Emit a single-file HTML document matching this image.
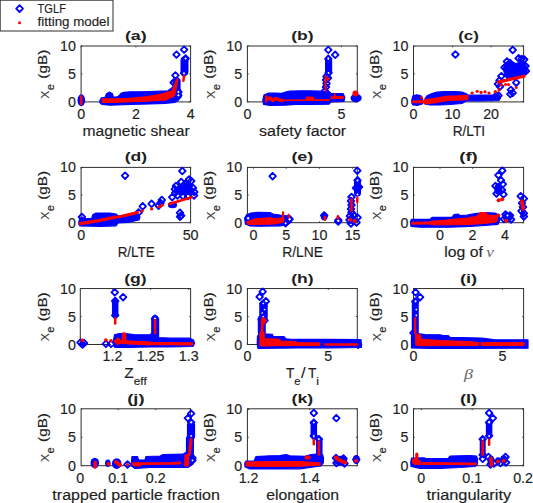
<!DOCTYPE html><html><head><meta charset="utf-8"><style>html,body{margin:0;padding:0;background:#fff;width:533px;height:503px;overflow:hidden}svg{display:block}</style></head><body><svg width="533" height="503" viewBox="0 0 533 503">
<style>text{font-family:"Liberation Sans", sans-serif;fill:#1e1e1e} .d{fill:none;stroke:#0000ff;stroke-width:1.8;stroke-linejoin:round} .bp{fill:#0000ff;stroke:#0000ff;stroke-width:1.2;stroke-linejoin:round} .bl{fill:none;stroke:#0000ff;stroke-linecap:round;stroke-linejoin:round} .rl{fill:none;stroke:#ff0000;stroke-linecap:round;stroke-linejoin:round} .ax{fill:none;stroke:#2e2e2e;stroke-width:1}</style>
<rect width="533" height="503" fill="#fff"/>
<rect class="ax" x="81.10" y="46.00" width="109.50" height="55.90"/>
<path d="M81.10 101.90v-1.3M81.10 46.00v1.3M135.90 101.90v-1.3M135.90 46.00v1.3M190.60 101.90v-1.3M190.60 46.00v1.3M81.10 101.90h1.3M190.60 101.90h-1.3M81.10 73.95h1.3M190.60 73.95h-1.3M81.10 46.00h1.3M190.60 46.00h-1.3" stroke="#333" stroke-width="1" fill="none"/>
<text x="81.10" y="118.70" font-size="13.75" font-weight="normal" text-anchor="middle" textLength="7.95" lengthAdjust="spacingAndGlyphs" stroke="#1e1e1e" stroke-width="0.15">0</text>
<text x="135.90" y="118.70" font-size="13.75" font-weight="normal" text-anchor="middle" textLength="7.95" lengthAdjust="spacingAndGlyphs" stroke="#1e1e1e" stroke-width="0.15">2</text>
<text x="190.60" y="118.70" font-size="13.75" font-weight="normal" text-anchor="middle" textLength="7.95" lengthAdjust="spacingAndGlyphs" stroke="#1e1e1e" stroke-width="0.15">4</text>
<text x="76.00" y="106.90" font-size="13.75" font-weight="normal" text-anchor="end" textLength="7.95" lengthAdjust="spacingAndGlyphs" stroke="#1e1e1e" stroke-width="0.15">0</text>
<text x="76.00" y="78.95" font-size="13.75" font-weight="normal" text-anchor="end" textLength="7.95" lengthAdjust="spacingAndGlyphs" stroke="#1e1e1e" stroke-width="0.15">5</text>
<text x="76.00" y="51.00" font-size="13.75" font-weight="normal" text-anchor="end" textLength="15.91" lengthAdjust="spacingAndGlyphs" stroke="#1e1e1e" stroke-width="0.15">10</text>
<text x="135.85" y="40.00" font-size="13.20" font-weight="bold" text-anchor="middle" textLength="21.85" lengthAdjust="spacingAndGlyphs">(a)</text>
<g transform="rotate(-90)"><text x="-98.75" y="46.60" font-size="11.5" textLength="8.2" lengthAdjust="spacingAndGlyphs" style="fill:#444">χ</text><text x="-90.25" y="53.60" font-size="10.3" textLength="6.15" lengthAdjust="spacingAndGlyphs" stroke="#1e1e1e" stroke-width="0.15">e</text><text x="-78.65" y="46.60" font-size="12.6" textLength="28.89" lengthAdjust="spacingAndGlyphs" stroke="#1e1e1e" stroke-width="0.15">(gB)</text></g>
<rect class="ax" x="247.40" y="46.00" width="109.90" height="55.90"/>
<path d="M247.40 101.90v-1.3M247.40 46.00v1.3M341.40 101.90v-1.3M341.40 46.00v1.3M247.40 101.90h1.3M357.30 101.90h-1.3M247.40 73.95h1.3M357.30 73.95h-1.3M247.40 46.00h1.3M357.30 46.00h-1.3" stroke="#333" stroke-width="1" fill="none"/>
<text x="247.40" y="118.70" font-size="13.75" font-weight="normal" text-anchor="middle" textLength="7.95" lengthAdjust="spacingAndGlyphs" stroke="#1e1e1e" stroke-width="0.15">0</text>
<text x="341.40" y="118.70" font-size="13.75" font-weight="normal" text-anchor="middle" textLength="7.95" lengthAdjust="spacingAndGlyphs" stroke="#1e1e1e" stroke-width="0.15">5</text>
<text x="242.30" y="106.90" font-size="13.75" font-weight="normal" text-anchor="end" textLength="7.95" lengthAdjust="spacingAndGlyphs" stroke="#1e1e1e" stroke-width="0.15">0</text>
<text x="242.30" y="78.95" font-size="13.75" font-weight="normal" text-anchor="end" textLength="7.95" lengthAdjust="spacingAndGlyphs" stroke="#1e1e1e" stroke-width="0.15">5</text>
<text x="242.30" y="51.00" font-size="13.75" font-weight="normal" text-anchor="end" textLength="15.91" lengthAdjust="spacingAndGlyphs" stroke="#1e1e1e" stroke-width="0.15">10</text>
<text x="302.35" y="40.00" font-size="13.20" font-weight="bold" text-anchor="middle" textLength="22.41" lengthAdjust="spacingAndGlyphs">(b)</text>
<g transform="rotate(-90)"><text x="-98.75" y="212.90" font-size="11.5" textLength="8.2" lengthAdjust="spacingAndGlyphs" style="fill:#444">χ</text><text x="-90.25" y="219.90" font-size="10.3" textLength="6.15" lengthAdjust="spacingAndGlyphs" stroke="#1e1e1e" stroke-width="0.15">e</text><text x="-78.65" y="212.90" font-size="12.6" textLength="28.89" lengthAdjust="spacingAndGlyphs" stroke="#1e1e1e" stroke-width="0.15">(gB)</text></g>
<rect class="ax" x="413.50" y="46.00" width="110.10" height="55.90"/>
<path d="M413.50 101.90v-1.3M413.50 46.00v1.3M452.40 101.90v-1.3M452.40 46.00v1.3M491.10 101.90v-1.3M491.10 46.00v1.3M413.50 101.90h1.3M523.60 101.90h-1.3M413.50 73.95h1.3M523.60 73.95h-1.3M413.50 46.00h1.3M523.60 46.00h-1.3" stroke="#333" stroke-width="1" fill="none"/>
<text x="413.50" y="118.70" font-size="13.75" font-weight="normal" text-anchor="middle" textLength="7.95" lengthAdjust="spacingAndGlyphs" stroke="#1e1e1e" stroke-width="0.15">0</text>
<text x="452.40" y="118.70" font-size="13.75" font-weight="normal" text-anchor="middle" textLength="15.91" lengthAdjust="spacingAndGlyphs" stroke="#1e1e1e" stroke-width="0.15">10</text>
<text x="491.10" y="118.70" font-size="13.75" font-weight="normal" text-anchor="middle" textLength="15.91" lengthAdjust="spacingAndGlyphs" stroke="#1e1e1e" stroke-width="0.15">20</text>
<text x="408.40" y="106.90" font-size="13.75" font-weight="normal" text-anchor="end" textLength="7.95" lengthAdjust="spacingAndGlyphs" stroke="#1e1e1e" stroke-width="0.15">0</text>
<text x="408.40" y="78.95" font-size="13.75" font-weight="normal" text-anchor="end" textLength="7.95" lengthAdjust="spacingAndGlyphs" stroke="#1e1e1e" stroke-width="0.15">5</text>
<text x="408.40" y="51.00" font-size="13.75" font-weight="normal" text-anchor="end" textLength="15.91" lengthAdjust="spacingAndGlyphs" stroke="#1e1e1e" stroke-width="0.15">10</text>
<text x="468.55" y="40.00" font-size="13.20" font-weight="bold" text-anchor="middle" textLength="20.72" lengthAdjust="spacingAndGlyphs">(c)</text>
<g transform="rotate(-90)"><text x="-98.75" y="379.00" font-size="11.5" textLength="8.2" lengthAdjust="spacingAndGlyphs" style="fill:#444">χ</text><text x="-90.25" y="386.00" font-size="10.3" textLength="6.15" lengthAdjust="spacingAndGlyphs" stroke="#1e1e1e" stroke-width="0.15">e</text><text x="-78.65" y="379.00" font-size="12.6" textLength="28.89" lengthAdjust="spacingAndGlyphs" stroke="#1e1e1e" stroke-width="0.15">(gB)</text></g>
<rect class="ax" x="81.10" y="167.40" width="109.50" height="55.30"/>
<path d="M81.10 222.70v-1.3M81.10 167.40v1.3M190.60 222.70v-1.3M190.60 167.40v1.3M81.10 222.70h1.3M190.60 222.70h-1.3M81.10 195.05h1.3M190.60 195.05h-1.3M81.10 167.40h1.3M190.60 167.40h-1.3" stroke="#333" stroke-width="1" fill="none"/>
<text x="81.10" y="239.50" font-size="13.75" font-weight="normal" text-anchor="middle" textLength="7.95" lengthAdjust="spacingAndGlyphs" stroke="#1e1e1e" stroke-width="0.15">0</text>
<text x="190.60" y="239.50" font-size="13.75" font-weight="normal" text-anchor="middle" textLength="15.91" lengthAdjust="spacingAndGlyphs" stroke="#1e1e1e" stroke-width="0.15">50</text>
<text x="76.00" y="227.70" font-size="13.75" font-weight="normal" text-anchor="end" textLength="7.95" lengthAdjust="spacingAndGlyphs" stroke="#1e1e1e" stroke-width="0.15">0</text>
<text x="76.00" y="200.05" font-size="13.75" font-weight="normal" text-anchor="end" textLength="7.95" lengthAdjust="spacingAndGlyphs" stroke="#1e1e1e" stroke-width="0.15">5</text>
<text x="76.00" y="172.40" font-size="13.75" font-weight="normal" text-anchor="end" textLength="15.91" lengthAdjust="spacingAndGlyphs" stroke="#1e1e1e" stroke-width="0.15">10</text>
<text x="135.85" y="161.40" font-size="13.20" font-weight="bold" text-anchor="middle" textLength="22.41" lengthAdjust="spacingAndGlyphs">(d)</text>
<g transform="rotate(-90)"><text x="-219.85" y="46.60" font-size="11.5" textLength="8.2" lengthAdjust="spacingAndGlyphs" style="fill:#444">χ</text><text x="-211.35" y="53.60" font-size="10.3" textLength="6.15" lengthAdjust="spacingAndGlyphs" stroke="#1e1e1e" stroke-width="0.15">e</text><text x="-199.75" y="46.60" font-size="12.6" textLength="28.89" lengthAdjust="spacingAndGlyphs" stroke="#1e1e1e" stroke-width="0.15">(gB)</text></g>
<rect class="ax" x="247.40" y="167.40" width="109.90" height="55.30"/>
<path d="M253.40 222.70v-1.3M253.40 167.40v1.3M286.30 222.70v-1.3M286.30 167.40v1.3M319.50 222.70v-1.3M319.50 167.40v1.3M352.60 222.70v-1.3M352.60 167.40v1.3M247.40 222.70h1.3M357.30 222.70h-1.3M247.40 195.05h1.3M357.30 195.05h-1.3M247.40 167.40h1.3M357.30 167.40h-1.3" stroke="#333" stroke-width="1" fill="none"/>
<text x="253.40" y="239.50" font-size="13.75" font-weight="normal" text-anchor="middle" textLength="7.95" lengthAdjust="spacingAndGlyphs" stroke="#1e1e1e" stroke-width="0.15">0</text>
<text x="286.30" y="239.50" font-size="13.75" font-weight="normal" text-anchor="middle" textLength="7.95" lengthAdjust="spacingAndGlyphs" stroke="#1e1e1e" stroke-width="0.15">5</text>
<text x="319.50" y="239.50" font-size="13.75" font-weight="normal" text-anchor="middle" textLength="15.91" lengthAdjust="spacingAndGlyphs" stroke="#1e1e1e" stroke-width="0.15">10</text>
<text x="352.60" y="239.50" font-size="13.75" font-weight="normal" text-anchor="middle" textLength="15.91" lengthAdjust="spacingAndGlyphs" stroke="#1e1e1e" stroke-width="0.15">15</text>
<text x="242.30" y="227.70" font-size="13.75" font-weight="normal" text-anchor="end" textLength="7.95" lengthAdjust="spacingAndGlyphs" stroke="#1e1e1e" stroke-width="0.15">0</text>
<text x="242.30" y="200.05" font-size="13.75" font-weight="normal" text-anchor="end" textLength="7.95" lengthAdjust="spacingAndGlyphs" stroke="#1e1e1e" stroke-width="0.15">5</text>
<text x="242.30" y="172.40" font-size="13.75" font-weight="normal" text-anchor="end" textLength="15.91" lengthAdjust="spacingAndGlyphs" stroke="#1e1e1e" stroke-width="0.15">10</text>
<text x="302.35" y="161.40" font-size="13.20" font-weight="bold" text-anchor="middle" textLength="21.89" lengthAdjust="spacingAndGlyphs">(e)</text>
<g transform="rotate(-90)"><text x="-219.85" y="212.90" font-size="11.5" textLength="8.2" lengthAdjust="spacingAndGlyphs" style="fill:#444">χ</text><text x="-211.35" y="219.90" font-size="10.3" textLength="6.15" lengthAdjust="spacingAndGlyphs" stroke="#1e1e1e" stroke-width="0.15">e</text><text x="-199.75" y="212.90" font-size="12.6" textLength="28.89" lengthAdjust="spacingAndGlyphs" stroke="#1e1e1e" stroke-width="0.15">(gB)</text></g>
<rect class="ax" x="413.50" y="167.40" width="110.10" height="55.30"/>
<path d="M440.00 222.70v-1.3M440.00 167.40v1.3M472.50 222.70v-1.3M472.50 167.40v1.3M505.00 222.70v-1.3M505.00 167.40v1.3M413.50 222.70h1.3M523.60 222.70h-1.3M413.50 195.05h1.3M523.60 195.05h-1.3M413.50 167.40h1.3M523.60 167.40h-1.3" stroke="#333" stroke-width="1" fill="none"/>
<text x="440.00" y="239.50" font-size="13.75" font-weight="normal" text-anchor="middle" textLength="7.95" lengthAdjust="spacingAndGlyphs" stroke="#1e1e1e" stroke-width="0.15">0</text>
<text x="472.50" y="239.50" font-size="13.75" font-weight="normal" text-anchor="middle" textLength="7.95" lengthAdjust="spacingAndGlyphs" stroke="#1e1e1e" stroke-width="0.15">2</text>
<text x="505.00" y="239.50" font-size="13.75" font-weight="normal" text-anchor="middle" textLength="7.95" lengthAdjust="spacingAndGlyphs" stroke="#1e1e1e" stroke-width="0.15">4</text>
<text x="408.40" y="227.70" font-size="13.75" font-weight="normal" text-anchor="end" textLength="7.95" lengthAdjust="spacingAndGlyphs" stroke="#1e1e1e" stroke-width="0.15">0</text>
<text x="408.40" y="200.05" font-size="13.75" font-weight="normal" text-anchor="end" textLength="7.95" lengthAdjust="spacingAndGlyphs" stroke="#1e1e1e" stroke-width="0.15">5</text>
<text x="408.40" y="172.40" font-size="13.75" font-weight="normal" text-anchor="end" textLength="15.91" lengthAdjust="spacingAndGlyphs" stroke="#1e1e1e" stroke-width="0.15">10</text>
<text x="468.55" y="161.40" font-size="13.20" font-weight="bold" text-anchor="middle" textLength="18.55" lengthAdjust="spacingAndGlyphs">(f)</text>
<g transform="rotate(-90)"><text x="-219.85" y="379.00" font-size="11.5" textLength="8.2" lengthAdjust="spacingAndGlyphs" style="fill:#444">χ</text><text x="-211.35" y="386.00" font-size="10.3" textLength="6.15" lengthAdjust="spacingAndGlyphs" stroke="#1e1e1e" stroke-width="0.15">e</text><text x="-199.75" y="379.00" font-size="12.6" textLength="28.89" lengthAdjust="spacingAndGlyphs" stroke="#1e1e1e" stroke-width="0.15">(gB)</text></g>
<rect class="ax" x="80.30" y="288.55" width="110.30" height="55.95"/>
<path d="M112.50 344.50v-1.3M112.50 288.55v1.3M150.60 344.50v-1.3M150.60 288.55v1.3M188.70 344.50v-1.3M188.70 288.55v1.3M80.30 344.50h1.3M190.60 344.50h-1.3M80.30 316.52h1.3M190.60 316.52h-1.3M80.30 288.55h1.3M190.60 288.55h-1.3" stroke="#333" stroke-width="1" fill="none"/>
<text x="112.50" y="361.30" font-size="13.75" font-weight="normal" text-anchor="middle" textLength="19.88" lengthAdjust="spacingAndGlyphs" stroke="#1e1e1e" stroke-width="0.15">1.2</text>
<text x="150.60" y="361.30" font-size="13.75" font-weight="normal" text-anchor="middle" textLength="27.83" lengthAdjust="spacingAndGlyphs" stroke="#1e1e1e" stroke-width="0.15">1.25</text>
<text x="188.70" y="361.30" font-size="13.75" font-weight="normal" text-anchor="middle" textLength="19.88" lengthAdjust="spacingAndGlyphs" stroke="#1e1e1e" stroke-width="0.15">1.3</text>
<text x="76.00" y="349.50" font-size="13.75" font-weight="normal" text-anchor="end" textLength="7.95" lengthAdjust="spacingAndGlyphs" stroke="#1e1e1e" stroke-width="0.15">0</text>
<text x="76.00" y="321.52" font-size="13.75" font-weight="normal" text-anchor="end" textLength="7.95" lengthAdjust="spacingAndGlyphs" stroke="#1e1e1e" stroke-width="0.15">5</text>
<text x="76.00" y="293.55" font-size="13.75" font-weight="normal" text-anchor="end" textLength="15.91" lengthAdjust="spacingAndGlyphs" stroke="#1e1e1e" stroke-width="0.15">10</text>
<text x="135.45" y="282.55" font-size="13.20" font-weight="bold" text-anchor="middle" textLength="22.41" lengthAdjust="spacingAndGlyphs">(g)</text>
<g transform="rotate(-90)"><text x="-341.32" y="46.60" font-size="11.5" textLength="8.2" lengthAdjust="spacingAndGlyphs" style="fill:#444">χ</text><text x="-332.82" y="53.60" font-size="10.3" textLength="6.15" lengthAdjust="spacingAndGlyphs" stroke="#1e1e1e" stroke-width="0.15">e</text><text x="-321.22" y="46.60" font-size="12.6" textLength="28.89" lengthAdjust="spacingAndGlyphs" stroke="#1e1e1e" stroke-width="0.15">(gB)</text></g>
<rect class="ax" x="247.40" y="288.55" width="109.90" height="55.95"/>
<path d="M247.40 344.50v-1.3M247.40 288.55v1.3M328.30 344.50v-1.3M328.30 288.55v1.3M247.40 344.50h1.3M357.30 344.50h-1.3M247.40 316.52h1.3M357.30 316.52h-1.3M247.40 288.55h1.3M357.30 288.55h-1.3" stroke="#333" stroke-width="1" fill="none"/>
<text x="247.40" y="361.30" font-size="13.75" font-weight="normal" text-anchor="middle" textLength="7.95" lengthAdjust="spacingAndGlyphs" stroke="#1e1e1e" stroke-width="0.15">0</text>
<text x="328.30" y="361.30" font-size="13.75" font-weight="normal" text-anchor="middle" textLength="7.95" lengthAdjust="spacingAndGlyphs" stroke="#1e1e1e" stroke-width="0.15">5</text>
<text x="242.30" y="349.50" font-size="13.75" font-weight="normal" text-anchor="end" textLength="7.95" lengthAdjust="spacingAndGlyphs" stroke="#1e1e1e" stroke-width="0.15">0</text>
<text x="242.30" y="321.52" font-size="13.75" font-weight="normal" text-anchor="end" textLength="7.95" lengthAdjust="spacingAndGlyphs" stroke="#1e1e1e" stroke-width="0.15">5</text>
<text x="242.30" y="293.55" font-size="13.75" font-weight="normal" text-anchor="end" textLength="15.91" lengthAdjust="spacingAndGlyphs" stroke="#1e1e1e" stroke-width="0.15">10</text>
<text x="302.35" y="282.55" font-size="13.20" font-weight="bold" text-anchor="middle" textLength="22.36" lengthAdjust="spacingAndGlyphs">(h)</text>
<g transform="rotate(-90)"><text x="-341.32" y="212.90" font-size="11.5" textLength="8.2" lengthAdjust="spacingAndGlyphs" style="fill:#444">χ</text><text x="-332.82" y="219.90" font-size="10.3" textLength="6.15" lengthAdjust="spacingAndGlyphs" stroke="#1e1e1e" stroke-width="0.15">e</text><text x="-321.22" y="212.90" font-size="12.6" textLength="28.89" lengthAdjust="spacingAndGlyphs" stroke="#1e1e1e" stroke-width="0.15">(gB)</text></g>
<rect class="ax" x="413.50" y="288.55" width="110.10" height="55.95"/>
<path d="M413.50 344.50v-1.3M413.50 288.55v1.3M502.40 344.50v-1.3M502.40 288.55v1.3M413.50 344.50h1.3M523.60 344.50h-1.3M413.50 316.52h1.3M523.60 316.52h-1.3M413.50 288.55h1.3M523.60 288.55h-1.3" stroke="#333" stroke-width="1" fill="none"/>
<text x="413.50" y="361.30" font-size="13.75" font-weight="normal" text-anchor="middle" textLength="7.95" lengthAdjust="spacingAndGlyphs" stroke="#1e1e1e" stroke-width="0.15">0</text>
<text x="502.40" y="361.30" font-size="13.75" font-weight="normal" text-anchor="middle" textLength="7.95" lengthAdjust="spacingAndGlyphs" stroke="#1e1e1e" stroke-width="0.15">5</text>
<text x="408.40" y="349.50" font-size="13.75" font-weight="normal" text-anchor="end" textLength="7.95" lengthAdjust="spacingAndGlyphs" stroke="#1e1e1e" stroke-width="0.15">0</text>
<text x="408.40" y="321.52" font-size="13.75" font-weight="normal" text-anchor="end" textLength="7.95" lengthAdjust="spacingAndGlyphs" stroke="#1e1e1e" stroke-width="0.15">5</text>
<text x="408.40" y="293.55" font-size="13.75" font-weight="normal" text-anchor="end" textLength="15.91" lengthAdjust="spacingAndGlyphs" stroke="#1e1e1e" stroke-width="0.15">10</text>
<text x="468.55" y="282.55" font-size="13.20" font-weight="bold" text-anchor="middle" textLength="17.28" lengthAdjust="spacingAndGlyphs">(i)</text>
<g transform="rotate(-90)"><text x="-341.32" y="379.00" font-size="11.5" textLength="8.2" lengthAdjust="spacingAndGlyphs" style="fill:#444">χ</text><text x="-332.82" y="386.00" font-size="10.3" textLength="6.15" lengthAdjust="spacingAndGlyphs" stroke="#1e1e1e" stroke-width="0.15">e</text><text x="-321.22" y="379.00" font-size="12.6" textLength="28.89" lengthAdjust="spacingAndGlyphs" stroke="#1e1e1e" stroke-width="0.15">(gB)</text></g>
<rect class="ax" x="81.10" y="408.80" width="109.50" height="56.90"/>
<path d="M118.10 465.70v-1.3M118.10 408.80v1.3M155.80 465.70v-1.3M155.80 408.80v1.3M81.10 465.70h1.3M190.60 465.70h-1.3M81.10 437.25h1.3M190.60 437.25h-1.3M81.10 408.80h1.3M190.60 408.80h-1.3" stroke="#333" stroke-width="1" fill="none"/>
<text x="80.30" y="482.50" font-size="13.75" font-weight="normal" text-anchor="middle" textLength="7.95" lengthAdjust="spacingAndGlyphs" stroke="#1e1e1e" stroke-width="0.15">0</text>
<text x="118.10" y="482.50" font-size="13.75" font-weight="normal" text-anchor="middle" textLength="19.88" lengthAdjust="spacingAndGlyphs" stroke="#1e1e1e" stroke-width="0.15">0.1</text>
<text x="155.80" y="482.50" font-size="13.75" font-weight="normal" text-anchor="middle" textLength="19.88" lengthAdjust="spacingAndGlyphs" stroke="#1e1e1e" stroke-width="0.15">0.2</text>
<text x="76.00" y="470.70" font-size="13.75" font-weight="normal" text-anchor="end" textLength="7.95" lengthAdjust="spacingAndGlyphs" stroke="#1e1e1e" stroke-width="0.15">0</text>
<text x="76.00" y="442.25" font-size="13.75" font-weight="normal" text-anchor="end" textLength="7.95" lengthAdjust="spacingAndGlyphs" stroke="#1e1e1e" stroke-width="0.15">5</text>
<text x="76.00" y="413.80" font-size="13.75" font-weight="normal" text-anchor="end" textLength="15.91" lengthAdjust="spacingAndGlyphs" stroke="#1e1e1e" stroke-width="0.15">10</text>
<text x="135.85" y="402.80" font-size="13.20" font-weight="bold" text-anchor="middle" textLength="17.28" lengthAdjust="spacingAndGlyphs">(j)</text>
<g transform="rotate(-90)"><text x="-462.05" y="46.60" font-size="11.5" textLength="8.2" lengthAdjust="spacingAndGlyphs" style="fill:#444">χ</text><text x="-453.55" y="53.60" font-size="10.3" textLength="6.15" lengthAdjust="spacingAndGlyphs" stroke="#1e1e1e" stroke-width="0.15">e</text><text x="-441.95" y="46.60" font-size="12.6" textLength="28.89" lengthAdjust="spacingAndGlyphs" stroke="#1e1e1e" stroke-width="0.15">(gB)</text></g>
<rect class="ax" x="247.40" y="408.80" width="109.90" height="56.90"/>
<path d="M248.60 465.70v-1.3M248.60 408.80v1.3M309.80 465.70v-1.3M309.80 408.80v1.3M247.40 465.70h1.3M357.30 465.70h-1.3M247.40 437.25h1.3M357.30 437.25h-1.3M247.40 408.80h1.3M357.30 408.80h-1.3" stroke="#333" stroke-width="1" fill="none"/>
<text x="248.60" y="482.50" font-size="13.75" font-weight="normal" text-anchor="middle" textLength="19.88" lengthAdjust="spacingAndGlyphs" stroke="#1e1e1e" stroke-width="0.15">1.2</text>
<text x="309.80" y="482.50" font-size="13.75" font-weight="normal" text-anchor="middle" textLength="19.88" lengthAdjust="spacingAndGlyphs" stroke="#1e1e1e" stroke-width="0.15">1.4</text>
<text x="242.30" y="470.70" font-size="13.75" font-weight="normal" text-anchor="end" textLength="7.95" lengthAdjust="spacingAndGlyphs" stroke="#1e1e1e" stroke-width="0.15">0</text>
<text x="242.30" y="442.25" font-size="13.75" font-weight="normal" text-anchor="end" textLength="7.95" lengthAdjust="spacingAndGlyphs" stroke="#1e1e1e" stroke-width="0.15">5</text>
<text x="242.30" y="413.80" font-size="13.75" font-weight="normal" text-anchor="end" textLength="15.91" lengthAdjust="spacingAndGlyphs" stroke="#1e1e1e" stroke-width="0.15">10</text>
<text x="302.35" y="402.80" font-size="13.20" font-weight="bold" text-anchor="middle" textLength="21.71" lengthAdjust="spacingAndGlyphs">(k)</text>
<g transform="rotate(-90)"><text x="-462.05" y="212.90" font-size="11.5" textLength="8.2" lengthAdjust="spacingAndGlyphs" style="fill:#444">χ</text><text x="-453.55" y="219.90" font-size="10.3" textLength="6.15" lengthAdjust="spacingAndGlyphs" stroke="#1e1e1e" stroke-width="0.15">e</text><text x="-441.95" y="212.90" font-size="12.6" textLength="28.89" lengthAdjust="spacingAndGlyphs" stroke="#1e1e1e" stroke-width="0.15">(gB)</text></g>
<rect class="ax" x="413.50" y="408.80" width="110.10" height="56.90"/>
<path d="M421.30 465.70v-1.3M421.30 408.80v1.3M472.20 465.70v-1.3M472.20 408.80v1.3M523.10 465.70v-1.3M523.10 408.80v1.3M413.50 465.70h1.3M523.60 465.70h-1.3M413.50 437.25h1.3M523.60 437.25h-1.3M413.50 408.80h1.3M523.60 408.80h-1.3" stroke="#333" stroke-width="1" fill="none"/>
<text x="421.30" y="482.50" font-size="13.75" font-weight="normal" text-anchor="middle" textLength="7.95" lengthAdjust="spacingAndGlyphs" stroke="#1e1e1e" stroke-width="0.15">0</text>
<text x="472.20" y="482.50" font-size="13.75" font-weight="normal" text-anchor="middle" textLength="19.88" lengthAdjust="spacingAndGlyphs" stroke="#1e1e1e" stroke-width="0.15">0.1</text>
<text x="523.10" y="482.50" font-size="13.75" font-weight="normal" text-anchor="middle" textLength="19.88" lengthAdjust="spacingAndGlyphs" stroke="#1e1e1e" stroke-width="0.15">0.2</text>
<text x="408.40" y="470.70" font-size="13.75" font-weight="normal" text-anchor="end" textLength="7.95" lengthAdjust="spacingAndGlyphs" stroke="#1e1e1e" stroke-width="0.15">0</text>
<text x="408.40" y="442.25" font-size="13.75" font-weight="normal" text-anchor="end" textLength="7.95" lengthAdjust="spacingAndGlyphs" stroke="#1e1e1e" stroke-width="0.15">5</text>
<text x="408.40" y="413.80" font-size="13.75" font-weight="normal" text-anchor="end" textLength="15.91" lengthAdjust="spacingAndGlyphs" stroke="#1e1e1e" stroke-width="0.15">10</text>
<text x="468.55" y="402.80" font-size="13.20" font-weight="bold" text-anchor="middle" textLength="17.28" lengthAdjust="spacingAndGlyphs">(l)</text>
<g transform="rotate(-90)"><text x="-462.05" y="379.00" font-size="11.5" textLength="8.2" lengthAdjust="spacingAndGlyphs" style="fill:#444">χ</text><text x="-453.55" y="386.00" font-size="10.3" textLength="6.15" lengthAdjust="spacingAndGlyphs" stroke="#1e1e1e" stroke-width="0.15">e</text><text x="-441.95" y="379.00" font-size="12.6" textLength="28.89" lengthAdjust="spacingAndGlyphs" stroke="#1e1e1e" stroke-width="0.15">(gB)</text></g>
<text x="136.15" y="136.10" font-size="14.44" font-weight="normal" text-anchor="middle" textLength="107.28" lengthAdjust="spacingAndGlyphs" stroke="#1e1e1e" stroke-width="0.15">magnetic shear</text>
<text x="302.65" y="136.10" font-size="14.44" font-weight="normal" text-anchor="middle" textLength="87.07" lengthAdjust="spacingAndGlyphs" stroke="#1e1e1e" stroke-width="0.15">safety factor</text>
<text x="468.85" y="136.10" font-size="14.44" font-weight="normal" text-anchor="middle" textLength="32.41" lengthAdjust="spacingAndGlyphs" stroke="#1e1e1e" stroke-width="0.15">R/LTI</text>
<text x="136.15" y="256.90" font-size="14.44" font-weight="normal" text-anchor="middle" textLength="37.04" lengthAdjust="spacingAndGlyphs" stroke="#1e1e1e" stroke-width="0.15">R/LTE</text>
<text x="302.65" y="256.90" font-size="14.44" font-weight="normal" text-anchor="middle" textLength="40.82" lengthAdjust="spacingAndGlyphs" stroke="#1e1e1e" stroke-width="0.15">R/LNE</text>
<text x="136.15" y="499.90" font-size="14.44" font-weight="normal" text-anchor="middle" textLength="167.53" lengthAdjust="spacingAndGlyphs" stroke="#1e1e1e" stroke-width="0.15">trapped particle fraction</text>
<text x="302.65" y="499.90" font-size="14.44" font-weight="normal" text-anchor="middle" textLength="72.90" lengthAdjust="spacingAndGlyphs" stroke="#1e1e1e" stroke-width="0.15">elongation</text>
<text x="468.85" y="499.90" font-size="14.44" font-weight="normal" text-anchor="middle" textLength="84.70" lengthAdjust="spacingAndGlyphs" stroke="#1e1e1e" stroke-width="0.15">triangularity</text>
<text x="444.30" y="257.30" font-size="14.44" font-weight="normal" text-anchor="start" textLength="38.58" lengthAdjust="spacingAndGlyphs" stroke="#1e1e1e" stroke-width="0.15">log of</text>
<text x="486.3" y="257.3" font-size="15" font-style="italic" style="font-family:'Liberation Serif',serif;fill:#666" textLength="7.6" lengthAdjust="spacingAndGlyphs">ν</text>
<text x="124.20" y="378.30" font-size="14.44" font-weight="normal" text-anchor="start" textLength="9.42" lengthAdjust="spacingAndGlyphs" stroke="#1e1e1e" stroke-width="0.15">Z</text>
<text x="133.70" y="384.60" font-size="10.50" font-weight="normal" text-anchor="start" textLength="13.04" lengthAdjust="spacingAndGlyphs" stroke="#1e1e1e" stroke-width="0.15">eff</text>
<text x="286.10" y="378.30" font-size="14.44" font-weight="normal" text-anchor="start" textLength="8.40" lengthAdjust="spacingAndGlyphs" stroke="#1e1e1e" stroke-width="0.15">T</text>
<text x="294.30" y="384.60" font-size="10.50" font-weight="normal" text-anchor="start" textLength="6.15" lengthAdjust="spacingAndGlyphs" stroke="#1e1e1e" stroke-width="0.15">e</text>
<text x="301.00" y="378.30" font-size="14.44" font-weight="normal" text-anchor="start" textLength="4.63" lengthAdjust="spacingAndGlyphs" stroke="#1e1e1e" stroke-width="0.15">/</text>
<text x="308.00" y="378.30" font-size="14.44" font-weight="normal" text-anchor="start" textLength="8.40" lengthAdjust="spacingAndGlyphs" stroke="#1e1e1e" stroke-width="0.15">T</text>
<text x="316.30" y="384.60" font-size="10.50" font-weight="normal" text-anchor="start" textLength="2.78" lengthAdjust="spacingAndGlyphs" stroke="#1e1e1e" stroke-width="0.15">i</text>
<text x="464.0" y="378.6" font-size="15" font-style="italic" style="font-family:'Liberation Serif',serif;fill:#666" textLength="9" lengthAdjust="spacingAndGlyphs">β</text>
<g><ellipse cx="81.3" cy="100.3" rx="3.8" ry="6" fill="#0000ff"/><path d="M100.0 100.0L101.5 97.8L105.0 97.3L106.5 93.8L109.5 92.0L112.5 93.8L113.5 97.2L117.0 96.8L119.0 95.8L121.0 93.3L124.0 92.3L130.0 91.8L140.0 91.8L150.0 91.5L160.0 91.2L168.0 90.8L173.0 87.0L173.0 80.5L174.8 77.8L178.0 77.8L180.0 80.0L180.0 88.0L180.5 92.0L181.0 97.0L178.0 100.5L175.0 102.3L165.0 103.3L150.0 104.0L130.0 104.5L110.0 105.2L102.0 104.5L99.8 102.5Z" class="bp"/><path d="M184.5 60.5L184.5 71.5" class="bl" stroke-width="8"/><path d="M184.1 46.3L187.4 49.6L184.1 52.9L180.8 49.6Z" class="d"/><path d="M176.5 51.3L179.8 54.6L176.5 57.9L173.2 54.6Z" class="d"/><path d="M185.6 55.2L188.9 58.5L185.6 61.8L182.3 58.5Z" class="d"/><path d="M184.0 69.9L187.3 73.2L184.0 76.5L180.7 73.2Z" class="d"/><path d="M175.4 72.1L178.7 75.4L175.4 78.7L172.1 75.4Z" class="d"/><path d="M173.6 79.2L176.9 82.5L173.6 85.8L170.3 82.5Z" class="d"/><path d="M178.4 88.7L181.7 92.0L178.4 95.3L175.1 92.0Z" class="d"/><path d="M178.4 92.0L181.7 95.3L178.4 98.6L175.1 95.3Z" class="d"/><path d="M262.8 100.0L264.0 95.0L268.0 93.2L275.0 93.0L282.0 93.4L285.0 92.2L290.0 91.2L300.0 90.8L310.0 90.8L320.0 91.2L329.0 91.5L331.0 93.5L343.0 93.5L344.8 97.0L344.0 101.3L331.0 101.8L329.0 104.2L310.0 104.4L296.0 104.5L285.0 105.2L270.0 105.4L263.5 104.3Z" class="bp"/><ellipse cx="356.1" cy="98" rx="5.6" ry="4.3" fill="#0000ff"/><path d="M328.6 61.0L328.6 71.0" class="bl" stroke-width="7.2"/><path d="M326.5 73.2L329.8 76.5L326.5 79.8L323.2 76.5Z" class="d"/><path d="M326.0 76.7L329.3 80.0L326.0 83.3L322.7 80.0Z" class="d"/><path d="M326.5 80.2L329.8 83.5L326.5 86.8L323.2 83.5Z" class="d"/><path d="M326.0 83.7L329.3 87.0L326.0 90.3L322.7 87.0Z" class="d"/><path d="M325.0 87.5L328.3 90.8L325.0 94.1L321.7 90.8Z" class="d"/><path d="M328.0 74.7L331.3 78.0L328.0 81.3L324.7 78.0Z" class="d"/><path d="M328.3 46.6L331.6 49.9L328.3 53.2L325.0 49.9Z" class="d"/><path d="M335.2 51.5L338.5 54.8L335.2 58.1L331.9 54.8Z" class="d"/><path d="M328.3 55.5L331.6 58.8L328.3 62.1L325.0 58.8Z" class="d"/><path d="M328.6 69.6L331.9 72.9L328.6 76.2L325.3 72.9Z" class="d"/><path d="M411.8 100.0L413.0 95.8L417.0 94.8L421.0 95.8L422.3 98.0L422.3 104.0L418.0 105.3L413.0 105.0L411.8 103.0Z" class="bp"/><path d="M424.8 99.0L427.0 95.8L432.0 93.5L437.0 92.0L445.0 91.5L455.0 91.5L462.0 92.0L467.0 94.0L467.0 100.5L462.0 103.5L450.0 104.5L440.0 105.0L430.0 105.0L425.0 104.0Z" class="bp"/><path d="M467.0 95.2L480.0 95.0L493.0 95.0L500.0 95.5L500.5 98.0L499.0 100.5L480.0 100.8L467.0 100.8Z" class="bp"/><path d="M505.0 64.0L508.0 61.0L512.0 62.0L516.0 63.5L521.0 62.0L525.0 64.0L527.0 67.0L527.0 72.0L524.5 76.0L515.0 78.0L507.0 78.5L504.5 75.0L503.5 68.0Z" class="bp"/><path d="M512.7 46.7L516.0 50.0L512.7 53.3L509.4 50.0Z" class="d"/><path d="M518.6 55.0L521.9 58.3L518.6 61.6L515.3 58.3Z" class="d"/><path d="M521.6 55.6L524.9 58.9L521.6 62.2L518.3 58.9Z" class="d"/><path d="M524.2 56.2L527.5 59.5L524.2 62.8L520.9 59.5Z" class="d"/><path d="M455.4 51.2L458.7 54.5L455.4 57.8L452.1 54.5Z" class="d"/><path d="M501.3 72.9L504.6 76.2L501.3 79.5L498.0 76.2Z" class="d"/><path d="M507.0 58.2L510.3 61.5L507.0 64.8L503.7 61.5Z" class="d"/><path d="M510.0 59.7L513.3 63.0L510.0 66.3L506.7 63.0Z" class="d"/><path d="M504.5 64.2L507.8 67.5L504.5 70.8L501.2 67.5Z" class="d"/><path d="M525.5 62.7L528.8 66.0L525.5 69.3L522.2 66.0Z" class="d"/><path d="M526.0 67.7L529.3 71.0L526.0 74.3L522.7 71.0Z" class="d"/><path d="M516.2 79.4L519.5 82.7L516.2 86.0L512.9 82.7Z" class="d"/><path d="M510.9 86.6L514.2 89.9L510.9 93.2L507.6 89.9Z" class="d"/><path d="M512.7 89.6L516.0 92.9L512.7 96.2L509.4 92.9Z" class="d"/><path d="M510.3 90.8L513.6 94.1L510.3 97.4L507.0 94.1Z" class="d"/><path d="M499.5 77.2L502.8 80.5L499.5 83.8L496.2 80.5Z" class="d"/><path d="M498.0 80.7L501.3 84.0L498.0 87.3L494.7 84.0Z" class="d"/><path d="M500.0 83.2L503.3 86.5L500.0 89.8L496.7 86.5Z" class="d"/><path d="M496.0 92.7L499.3 96.0L496.0 99.3L492.7 96.0Z" class="d"/><path d="M498.5 92.2L501.8 95.5L498.5 98.8L495.2 95.5Z" class="d"/><path d="M78.8 222.0L79.8 218.8L82.0 217.0L84.0 218.6L91.5 218.6L93.0 214.5L96.0 213.0L110.0 213.0L116.0 214.0L118.0 216.0L125.0 215.0L135.0 214.5L139.0 215.0L140.0 217.0L139.0 220.0L128.0 222.3L118.0 223.0L116.0 225.8L100.0 226.3L80.0 226.0L78.8 224.5Z" class="bp"/><path d="M81.9 213.7L85.2 217.0L81.9 220.3L78.6 217.0Z" class="d"/><path d="M178.5 185.0L186.0 183.0L192.0 186.0L193.0 194.0L180.0 195.0L176.5 192.0Z" class="bp"/><path d="M181.2 178.7L184.5 182.0L181.2 185.3L177.9 182.0Z" class="d"/><path d="M176.0 182.7L179.3 186.0L176.0 189.3L172.7 186.0Z" class="d"/><path d="M174.8 185.9L178.1 189.2L174.8 192.5L171.5 189.2Z" class="d"/><path d="M175.2 189.5L178.5 192.8L175.2 196.1L171.9 192.8Z" class="d"/><path d="M177.5 192.2L180.8 195.5L177.5 198.8L174.2 195.5Z" class="d"/><path d="M185.0 180.7L188.3 184.0L185.0 187.3L181.7 184.0Z" class="d"/><path d="M189.0 176.1L192.3 179.4L189.0 182.7L185.7 179.4Z" class="d"/><path d="M191.2 177.7L194.5 181.0L191.2 184.3L187.9 181.0Z" class="d"/><path d="M193.0 184.7L196.3 188.0L193.0 191.3L189.7 188.0Z" class="d"/><path d="M194.3 188.7L197.6 192.0L194.3 195.3L191.0 192.0Z" class="d"/><path d="M194.0 192.2L197.3 195.5L194.0 198.8L190.7 195.5Z" class="d"/><path d="M188.0 192.7L191.3 196.0L188.0 199.3L184.7 196.0Z" class="d"/><path d="M183.0 192.7L186.3 196.0L183.0 199.3L179.7 196.0Z" class="d"/><path d="M180.0 185.7L183.3 189.0L180.0 192.3L176.7 189.0Z" class="d"/><path d="M187.0 186.7L190.3 190.0L187.0 193.3L183.7 190.0Z" class="d"/><ellipse cx="172.5" cy="205" rx="4.6" ry="3.2" fill="#0000ff"/><path d="M180.0 209.5L183.3 212.8L180.0 216.1L176.7 212.8Z" class="d"/><path d="M181.2 212.3L184.5 215.6L181.2 218.9L177.9 215.6Z" class="d"/><path d="M180.0 213.4L183.3 216.7L180.0 220.0L176.7 216.7Z" class="d"/><path d="M172.2 193.9L175.5 197.2L172.2 200.5L168.9 197.2Z" class="d"/><path d="M161.8 196.7L165.1 200.0L161.8 203.3L158.5 200.0Z" class="d"/><path d="M160.5 199.7L163.8 203.0L160.5 206.3L157.2 203.0Z" class="d"/><path d="M158.6 202.4L161.9 205.7L158.6 209.0L155.3 205.7Z" class="d"/><path d="M182.3 167.7L185.6 171.0L182.3 174.3L179.0 171.0Z" class="d"/><path d="M151.6 200.5L154.9 203.8L151.6 207.1L148.3 203.8Z" class="d"/><path d="M142.7 203.0L146.0 206.3L142.7 209.6L139.4 206.3Z" class="d"/><path d="M125.1 172.4L128.4 175.7L125.1 179.0L121.8 175.7Z" class="d"/><path d="M138.6 209.2L141.9 212.5L138.6 215.8L135.3 212.5Z" class="d"/><path d="M244.8 219.0L246.5 214.8L251.0 213.0L258.0 212.3L270.0 212.5L273.0 214.0L280.0 215.0L285.0 215.5L290.0 216.0L292.2 218.5L291.3 222.0L287.0 225.0L280.0 226.0L260.0 226.2L250.0 226.0L245.3 224.0Z" class="bp"/><path d="M272.6 172.9L275.9 176.2L272.6 179.5L269.3 176.2Z" class="d"/><path d="M289.6 215.9L292.9 219.2L289.6 222.5L286.3 219.2Z" class="d"/><path d="M248.1 214.9L251.4 218.2L248.1 221.5L244.8 218.2Z" class="d"/><path d="M285.6 219.9L288.9 223.2L285.6 226.5L282.3 223.2Z" class="d"/><ellipse cx="324.2" cy="216.4" rx="3.4" ry="4.0" fill="#0000ff"/><path d="M324.2 212.2L327.5 215.5L324.2 218.8L320.9 215.5Z" class="d"/><path d="M338.4 216.9L341.7 220.2L338.4 223.5L335.1 220.2Z" class="d"/><path d="M338.2 218.2L341.5 221.5L338.2 224.8L334.9 221.5Z" class="d"/><path d="M357.5 182.5L357.5 193.0" class="bl" stroke-width="7"/><path d="M357.3 167.4L360.6 170.7L357.3 174.0L354.0 170.7Z" class="d"/><path d="M357.5 177.0L360.8 180.3L357.5 183.6L354.2 180.3Z" class="d"/><path d="M351.5 193.7L354.8 197.0L351.5 200.3L348.2 197.0Z" class="d"/><path d="M351.0 197.7L354.3 201.0L351.0 204.3L347.7 201.0Z" class="d"/><path d="M351.5 201.7L354.8 205.0L351.5 208.3L348.2 205.0Z" class="d"/><path d="M351.0 205.7L354.3 209.0L351.0 212.3L347.7 209.0Z" class="d"/><path d="M351.5 209.2L354.8 212.5L351.5 215.8L348.2 212.5Z" class="d"/><path d="M359.0 183.7L362.3 187.0L359.0 190.3L355.7 187.0Z" class="d"/><path d="M356.0 184.7L359.3 188.0L356.0 191.3L352.7 188.0Z" class="d"/><path d="M351.3 199.0L351.3 210.0" class="bl" stroke-width="3"/><path d="M350.0 212.7L353.3 216.0L350.0 219.3L346.7 216.0Z" class="d"/><path d="M354.0 212.2L357.3 215.5L354.0 218.8L350.7 215.5Z" class="d"/><path d="M357.5 214.2L360.8 217.5L357.5 220.8L354.2 217.5Z" class="d"/><path d="M349.5 216.7L352.8 220.0L349.5 223.3L346.2 220.0Z" class="d"/><path d="M353.0 217.7L356.3 221.0L353.0 224.3L349.7 221.0Z" class="d"/><path d="M356.5 219.2L359.8 222.5L356.5 225.8L353.2 222.5Z" class="d"/><path d="M351.0 220.2L354.3 223.5L351.0 226.8L347.7 223.5Z" class="d"/><path d="M410.4 222.0L411.5 219.3L430.0 219.3L432.0 217.3L452.0 217.0L454.0 214.5L458.3 214.2L460.0 215.5L467.0 215.2L475.0 213.7L485.0 212.7L495.0 213.0L499.3 215.0L499.8 220.0L498.0 224.3L485.0 225.3L470.0 226.3L450.0 227.2L420.0 227.2L411.0 226.3Z" class="bp"/><ellipse cx="507.6" cy="217.2" rx="5.0" ry="4.8" fill="#0000ff"/><path d="M505.5 211.2L508.8 214.5L505.5 217.8L502.2 214.5Z" class="d"/><path d="M510.0 212.2L513.3 215.5L510.0 218.8L506.7 215.5Z" class="d"/><path d="M504.0 215.7L507.3 219.0L504.0 222.3L500.7 219.0Z" class="d"/><path d="M511.0 216.2L514.3 219.5L511.0 222.8L507.7 219.5Z" class="d"/><ellipse cx="498.4" cy="189" rx="4.2" ry="6" fill="#0000ff"/><path d="M502.3 167.4L505.6 170.7L502.3 174.0L499.0 170.7Z" class="d"/><path d="M498.4 171.9L501.7 175.2L498.4 178.5L495.1 175.2Z" class="d"/><path d="M501.0 177.0L504.3 180.3L501.0 183.6L497.7 180.3Z" class="d"/><path d="M502.9 180.8L506.2 184.1L502.9 187.4L499.6 184.1Z" class="d"/><path d="M496.5 190.3L499.8 193.6L496.5 196.9L493.2 193.6Z" class="d"/><path d="M503.5 191.0L506.8 194.3L503.5 197.6L500.2 194.3Z" class="d"/><path d="M495.5 182.7L498.8 186.0L495.5 189.3L492.2 186.0Z" class="d"/><path d="M502.0 186.7L505.3 190.0L502.0 193.3L498.7 190.0Z" class="d"/><path d="M522.0 198.0L523.0 216.0" class="bl" stroke-width="3.5"/><path d="M520.7 192.9L524.0 196.2L520.7 199.5L517.4 196.2Z" class="d"/><path d="M523.9 195.4L527.2 198.7L523.9 202.0L520.6 198.7Z" class="d"/><path d="M522.0 199.9L525.3 203.2L522.0 206.5L518.7 203.2Z" class="d"/><path d="M523.0 203.7L526.3 207.0L523.0 210.3L519.7 207.0Z" class="d"/><path d="M521.5 207.7L524.8 211.0L521.5 214.3L518.2 211.0Z" class="d"/><path d="M523.9 210.0L527.2 213.3L523.9 216.6L520.6 213.3Z" class="d"/><path d="M523.9 213.2L527.2 216.5L523.9 219.8L520.6 216.5Z" class="d"/><path d="M80.5 339.2L83.8 342.5L80.5 345.8L77.2 342.5Z" class="d"/><path d="M84.0 339.7L87.3 343.0L84.0 346.3L80.7 343.0Z" class="d"/><path d="M82.5 341.2L85.8 344.5L82.5 347.8L79.2 344.5Z" class="d"/><path d="M105.9 340.6L109.2 343.9L105.9 347.2L102.6 343.9Z" class="d"/><path d="M111.0 340.6L114.3 343.9L111.0 347.2L107.7 343.9Z" class="d"/><path d="M115.2 302.0L115.2 314.5" class="bl" stroke-width="6.5"/><path d="M114.8 289.1L118.1 292.4L114.8 295.7L111.5 292.4Z" class="d"/><path d="M123.1 293.9L126.4 297.2L123.1 300.5L119.8 297.2Z" class="d"/><path d="M115.2 297.7L118.5 301.0L115.2 304.3L111.9 301.0Z" class="d"/><path d="M115.2 312.0L118.5 315.3L115.2 318.6L111.9 315.3Z" class="d"/><path d="M113.5 340.0L114.5 334.8L118.0 333.8L124.0 333.4L130.0 334.0L135.0 334.8L150.0 334.8L151.8 333.0L151.8 319.0L153.0 316.3L155.0 315.6L157.0 316.3L158.6 319.0L158.6 337.5L170.0 338.2L190.0 338.2L193.5 340.0L194.5 343.5L193.0 346.5L170.0 346.8L150.0 347.0L130.0 347.3L115.0 347.3L113.0 345.0Z" class="bp"/><path d="M155.0 315.3L158.3 318.6L155.0 321.9L151.7 318.6Z" class="d"/><path d="M263.5 305.0L263.5 317.0" class="bl" stroke-width="8.5"/><path d="M263.3 300.2L266.6 303.5L263.3 306.8L260.0 303.5Z" class="d"/><path d="M261.5 316.2L264.8 319.5L261.5 322.8L258.2 319.5Z" class="d"/><path d="M264.5 317.2L267.8 320.5L264.5 323.8L261.2 320.5Z" class="d"/><path d="M261.8 319.0L261.8 333.0" class="bl" stroke-width="8"/><path d="M257.5 336.0L260.0 334.0L268.0 334.0L272.5 334.4L273.0 336.4L284.0 336.7L286.0 338.8L290.0 339.2L300.0 339.4L330.0 339.4L361.0 339.6L361.5 347.5L330.0 347.8L300.0 348.0L258.0 348.3L257.2 344.0Z" class="bp"/><path d="M262.7 288.4L266.0 291.7L262.7 295.0L259.4 291.7Z" class="d"/><path d="M259.6 293.5L262.9 296.8L259.6 300.1L256.3 296.8Z" class="d"/><path d="M265.9 298.0L269.2 301.3L265.9 304.6L262.6 301.3Z" class="d"/><path d="M358.2 341.4L361.5 344.7L358.2 348.0L354.9 344.7Z" class="d"/><path d="M415.3 302.5L415.3 332.0" class="bl" stroke-width="7"/><path d="M415.3 298.2L418.6 301.5L415.3 304.8L412.0 301.5Z" class="d"/><path d="M413.5 329.7L416.8 333.0L413.5 336.3L410.2 333.0Z" class="d"/><path d="M411.5 336.0L413.0 333.0L419.5 333.8L425.0 334.6L440.0 334.8L443.0 335.5L448.0 335.5L450.0 337.3L480.0 338.0L482.0 338.0L495.0 339.8L528.0 339.8L528.0 348.2L470.0 348.3L430.0 348.3L411.5 348.0Z" class="bp"/><path d="M415.6 289.1L418.9 292.4L415.6 295.7L412.3 292.4Z" class="d"/><path d="M420.1 293.9L423.4 297.2L420.1 300.5L416.8 297.2Z" class="d"/><ellipse cx="94.8" cy="463" rx="4.3" ry="5.3" fill="#0000ff"/><ellipse cx="107.8" cy="463.2" rx="2.8" ry="3.8" fill="#0000ff"/><ellipse cx="116.7" cy="463.6" rx="4.8" ry="5.3" fill="#0000ff"/><path d="M127.5 461.2L130.8 464.5L127.5 467.8L124.2 464.5Z" class="d"/><path d="M131.5 462.0L132.0 456.5L137.5 456.5L138.5 459.8L145.0 460.0L146.0 456.5L160.0 456.0L163.0 454.5L183.0 454.2L186.5 452.0L186.5 438.0L187.5 436.0L187.5 424.5L191.0 422.0L194.5 424.5L194.5 437.0L193.5 439.0L193.3 455.0L194.0 459.0L193.0 464.0L188.0 467.5L170.0 467.5L150.0 467.5L135.0 468.5L131.5 466.0Z" class="bp"/><path d="M191.1 410.3L194.4 413.6L191.1 416.9L187.8 413.6Z" class="d"/><path d="M187.9 414.8L191.2 418.1L187.9 421.4L184.6 418.1Z" class="d"/><path d="M191.1 419.2L194.4 422.5L191.1 425.8L187.8 422.5Z" class="d"/><path d="M192.5 454.6L195.8 457.9L192.5 461.2L189.2 457.9Z" class="d"/><path d="M192.5 457.1L195.8 460.4L192.5 463.7L189.2 460.4Z" class="d"/><path d="M244.8 463.0L246.0 461.0L254.0 461.0L256.0 456.5L270.0 455.8L280.0 455.6L286.0 454.5L290.0 455.8L305.0 456.3L310.0 454.8L316.0 454.0L322.5 454.5L323.5 458.0L323.3 463.0L321.0 466.0L310.0 467.5L300.0 468.8L280.0 469.0L250.0 469.0L245.0 467.0Z" class="bp"/><path d="M313.8 424.0L313.8 434.5" class="bl" stroke-width="6.5"/><path d="M319.3 441.0L319.3 453.0" class="bl" stroke-width="6.5"/><path d="M313.8 409.7L317.1 413.0L313.8 416.3L310.5 413.0Z" class="d"/><path d="M313.8 419.3L317.1 422.6L313.8 425.9L310.5 422.6Z" class="d"/><path d="M313.8 432.7L317.1 436.0L313.8 439.3L310.5 436.0Z" class="d"/><path d="M318.9 435.8L322.2 439.1L318.9 442.4L315.6 439.1Z" class="d"/><path d="M336.3 414.8L339.6 418.1L336.3 421.4L333.0 418.1Z" class="d"/><ellipse cx="340.5" cy="460.8" rx="6.6" ry="5.0" fill="#0000ff"/><path d="M336.0 454.7L339.3 458.0L336.0 461.3L332.7 458.0Z" class="d"/><path d="M343.5 455.2L346.8 458.5L343.5 461.8L340.2 458.5Z" class="d"/><path d="M336.5 459.7L339.8 463.0L336.5 466.3L333.2 463.0Z" class="d"/><path d="M344.5 460.2L347.8 463.5L344.5 466.8L341.2 463.5Z" class="d"/><ellipse cx="356.3" cy="459.6" rx="3.6" ry="4.6" fill="#0000ff"/><path d="M356.3 456.2L359.6 459.5L356.3 462.8L353.0 459.5Z" class="d"/><path d="M410.8 462.0L411.5 458.0L424.0 457.8L426.0 458.5L448.0 458.5L450.0 456.0L470.0 455.6L476.5 456.0L477.5 459.0L477.5 464.0L475.0 466.5L460.0 467.5L440.0 468.3L420.0 468.5L411.0 466.5Z" class="bp"/><path d="M489.1 425.0L489.1 434.5" class="bl" stroke-width="6.5"/><path d="M489.1 409.7L492.4 413.0L489.1 416.3L485.8 413.0Z" class="d"/><path d="M492.9 414.8L496.2 418.1L492.9 421.4L489.6 418.1Z" class="d"/><path d="M489.1 419.2L492.4 422.5L489.1 425.8L485.8 422.5Z" class="d"/><path d="M489.1 432.6L492.4 435.9L489.1 439.2L485.8 435.9Z" class="d"/><path d="M482.7 441.0L482.7 453.0" class="bl" stroke-width="6"/><path d="M482.7 435.8L486.0 439.1L482.7 442.4L479.4 439.1Z" class="d"/><path d="M482.7 451.7L486.0 455.0L482.7 458.3L479.4 455.0Z" class="d"/><path d="M482.7 455.5L486.0 458.8L482.7 462.1L479.4 458.8Z" class="d"/><ellipse cx="491" cy="460.7" rx="3.6" ry="5.2" fill="#0000ff"/><ellipse cx="498" cy="460.9" rx="3" ry="3.6" fill="#0000ff"/><ellipse cx="503.7" cy="459.8" rx="3.6" ry="4.2" fill="#0000ff"/><path d="M488.5 453.7L491.8 457.0L488.5 460.3L485.2 457.0Z" class="d"/><path d="M494.0 460.2L497.3 463.5L494.0 466.8L490.7 463.5Z" class="d"/><path d="M500.5 459.7L503.8 463.0L500.5 466.3L497.2 463.0Z" class="d"/><path d="M506.0 459.2L509.3 462.5L506.0 465.8L502.7 462.5Z" class="d"/><path d="M505.5 453.7L508.8 457.0L505.5 460.3L502.2 457.0Z" class="d"/><path d="M490.5 461.2L493.8 464.5L490.5 467.8L487.2 464.5Z" class="d"/></g>
<g><path d="M185.6 57.3L186.8 58.5L185.6 59.7L184.4 58.5Z" fill="#fff"/><path d="M184.0 72.0L185.2 73.2L184.0 74.4L182.8 73.2Z" fill="#fff"/><path d="M178.4 90.7L179.7 92.0L178.4 93.3L177.1 92.0Z" fill="#fff"/><path d="M178.4 94.0L179.7 95.3L178.4 96.6L177.1 95.3Z" fill="#fff"/><path d="M175.4 74.2L176.6 75.4L175.4 76.6L174.2 75.4Z" fill="#fff"/><path d="M328.3 57.6L329.5 58.8L328.3 60.0L327.1 58.8Z" fill="#fff"/><path d="M328.6 71.7L329.8 72.9L328.6 74.1L327.4 72.9Z" fill="#fff"/><path d="M248.1 216.7L249.6 218.2L248.1 219.7L246.6 218.2Z" fill="#fff"/><path d="M289.6 217.7L291.1 219.2L289.6 220.7L288.1 219.2Z" fill="#fff"/><path d="M285.6 222.0L286.8 223.2L285.6 224.4L284.4 223.2Z" fill="#fff"/><path d="M338.3 219.5L339.6 220.8L338.3 222.1L337.0 220.8Z" fill="#fff"/><path d="M357.5 179.3L358.7 180.5L357.5 181.7L356.3 180.5Z" fill="#fff"/><path d="M357.5 193.3L358.7 194.5L357.5 195.7L356.3 194.5Z" fill="#fff"/><path d="M507.5 214.3L508.7 215.5L507.5 216.7L506.3 215.5Z" fill="#fff"/><path d="M155.0 317.3L156.3 318.6L155.0 319.9L153.7 318.6Z" fill="#fff"/><path d="M111.9 343.0L113.1 344.2L111.9 345.4L110.7 344.2Z" fill="#fff"/><path d="M265.9 300.1L267.1 301.3L265.9 302.5L264.7 301.3Z" fill="#fff"/><path d="M263.3 302.4L264.4 303.5L263.3 304.6L262.2 303.5Z" fill="#fff"/><path d="M264.6 308.5L265.6 309.5L264.6 310.5L263.6 309.5Z" fill="#fff"/><path d="M262.2 312.0L263.2 313.0L262.2 314.0L261.2 313.0Z" fill="#fff"/><path d="M263.2 315.7L264.3 316.8L263.2 317.9L262.1 316.8Z" fill="#fff"/><path d="M415.6 300.1L416.8 301.3L415.6 302.5L414.4 301.3Z" fill="#fff"/><path d="M416.3 308.5L417.4 309.6L416.3 310.7L415.2 309.6Z" fill="#fff"/><path d="M416.3 314.2L417.4 315.3L416.3 316.4L415.2 315.3Z" fill="#fff"/><path d="M191.1 421.3L192.3 422.5L191.1 423.7L189.9 422.5Z" fill="#fff"/><path d="M191.1 434.7L192.3 435.9L191.1 437.1L189.9 435.9Z" fill="#fff"/><path d="M192.5 459.3L193.6 460.4L192.5 461.5L191.4 460.4Z" fill="#fff"/><path d="M313.8 421.4L315.0 422.6L313.8 423.8L312.6 422.6Z" fill="#fff"/><path d="M313.8 434.8L315.0 436.0L313.8 437.2L312.6 436.0Z" fill="#fff"/><path d="M318.9 437.9L320.1 439.1L318.9 440.3L317.7 439.1Z" fill="#fff"/><path d="M489.1 421.3L490.3 422.5L489.1 423.7L487.9 422.5Z" fill="#fff"/><path d="M489.1 434.7L490.3 435.9L489.1 437.1L487.9 435.9Z" fill="#fff"/><path d="M482.7 437.9L483.9 439.1L482.7 440.3L481.5 439.1Z" fill="#fff"/><path d="M482.7 457.6L483.9 458.8L482.7 460.0L481.5 458.8Z" fill="#fff"/></g>
<g><path d="M81.2 96.5L81.2 104.0" class="rl" stroke-width="2.5"/><path d="M102.0 98.8L115.0 98.8L130.0 98.3L145.0 96.8L155.0 95.2L163.0 93.6L169.0 91.7L172.0 90.8L174.0 86.0L176.0 80.5L177.5 78.5L178.2 79.5L176.8 86.0L175.5 92.0L174.0 96.5L165.0 100.2L150.0 101.0L130.0 101.8L115.0 102.5L102.0 102.5Z" fill="#ff0000" stroke="#ff0000" stroke-width="1" stroke-linejoin="round"/><path d="M184.0 75.8L183.4 80.8" class="rl" stroke-width="2.5"/><path d="M266.2 96.2L266.2 102.0" class="rl" stroke-width="2.2"/><path d="M267.0 99.0L270.0 98.0L273.0 100.5L276.0 98.5L279.0 100.0L282.0 100.6" class="rl" stroke-width="3.6"/><path d="M283.0 100.4L305.0 100.2L329.0 100.0" class="rl" stroke-width="1.8"/><path d="M307.5 98.5L312.5 98.5" class="rl" stroke-width="4"/><path d="M332.0 97.5L342.5 97.5" class="rl" stroke-width="3.2"/><path d="M334.8 94.0L334.8 97.0" class="rl" stroke-width="2"/><path d="M325.6 76.6L325.6 90.8" class="rl" stroke-width="2"/><circle cx="327.8" cy="79.1" r="1.8" fill="#ff0000"/><circle cx="355.4" cy="93.4" r="3.0" fill="#ff0000"/><path d="M413.0 101.8L422.0 101.8" class="rl" stroke-width="3"/><circle cx="421.5" cy="97.6" r="1.5" fill="#ff0000"/><path d="M425.5 101.8L435.0 100.5L448.0 98.3L457.0 98.0L466.0 97.5" class="rl" stroke-width="5.5"/><circle cx="472.1" cy="93" r="1.6" fill="#ff0000"/><circle cx="477.2" cy="91.3" r="1.6" fill="#ff0000"/><circle cx="481.1" cy="92.4" r="1.6" fill="#ff0000"/><circle cx="485" cy="91.8" r="1.6" fill="#ff0000"/><circle cx="489" cy="93" r="1.6" fill="#ff0000"/><circle cx="495.2" cy="91.8" r="1.6" fill="#ff0000"/><circle cx="499" cy="89.9" r="1.6" fill="#ff0000"/><path d="M498.4 82.1L524.0 76.2" class="rl" stroke-width="3.2"/><circle cx="501.3" cy="85.1" r="1.6" fill="#ff0000"/><circle cx="505.5" cy="84.5" r="1.6" fill="#ff0000"/><circle cx="508.5" cy="84.5" r="1.6" fill="#ff0000"/><circle cx="516.2" cy="87.5" r="1.6" fill="#ff0000"/><circle cx="495.4" cy="91.7" r="1.5" fill="#ff0000"/><path d="M80.3 223.6L100.0 220.4L115.4 217.1" class="rl" stroke-width="3.2"/><path d="M118.0 217.1L128.0 214.8L137.7 212.5" class="rl" stroke-width="3"/><path d="M158.6 207.0L162.8 205.0" class="rl" stroke-width="2.5"/><circle cx="151.6" cy="208.9" r="1.6" fill="#ff0000"/><circle cx="142.3" cy="210.8" r="1.6" fill="#ff0000"/><path d="M169.5 203.9L180.0 200.8L191.8 197.2" class="rl" stroke-width="2.6"/><path d="M246.5 222.0L250.0 220.5L255.0 218.8L262.0 218.3L270.0 217.8L276.0 218.7L282.0 217.8L284.3 219.0L283.0 222.3L275.0 224.0L265.0 224.3L255.0 224.4L248.0 224.4Z" fill="#ff0000" stroke="#ff0000" stroke-width="1" stroke-linejoin="round"/><path d="M283.0 212.3L283.0 217.5" class="rl" stroke-width="2.2"/><path d="M288.6 214.8L288.6 217.3" class="rl" stroke-width="2.2"/><path d="M324.8 217.0L324.8 219.7" class="rl" stroke-width="2.5"/><path d="M337.9 216.2L337.9 218.4" class="rl" stroke-width="2.5"/><path d="M357.3 198.0L357.3 202.0" class="rl" stroke-width="2.5"/><path d="M351.5 199.4L351.5 210.8" class="rl" stroke-width="2.5"/><circle cx="350.3" cy="219.7" r="2" fill="#ff0000"/><circle cx="354.7" cy="221" r="2" fill="#ff0000"/><path d="M412.5 223.3L430.0 223.1" class="rl" stroke-width="3"/><path d="M430.5 221.2L445.0 220.2L455.0 219.0L468.0 218.0L477.0 216.0L480.0 212.5L486.0 212.5L488.0 215.0L497.0 215.5L497.5 218.0L496.5 222.0L485.0 223.5L468.0 224.6L450.0 224.8L430.5 224.8Z" fill="#ff0000" stroke="#ff0000" stroke-width="1" stroke-linejoin="round"/><circle cx="498.4" cy="215.3" r="1.8" fill="#ff0000"/><circle cx="506.2" cy="220.8" r="2" fill="#ff0000"/><circle cx="498.6" cy="200.2" r="2.0" fill="#ff0000"/><circle cx="502.2" cy="199.2" r="2.0" fill="#ff0000"/><path d="M522.0 201.0L523.0 209.0" class="rl" stroke-width="3.5"/><circle cx="82.4" cy="340.2" r="1.8" fill="#ff0000"/><circle cx="105.9" cy="340" r="1.8" fill="#ff0000"/><circle cx="111" cy="340.7" r="1.8" fill="#ff0000"/><path d="M115.2 318.4L115.2 323.5" class="rl" stroke-width="2.5"/><path d="M116.0 341.5L130.0 342.5L150.0 343.5" class="rl" stroke-width="4.2"/><path d="M124.2 334.5L124.2 341.0" class="rl" stroke-width="4.5"/><path d="M118.0 339.5L118.0 343.0" class="rl" stroke-width="4"/><path d="M150.0 343.6L170.0 343.6L192.0 343.8" class="rl" stroke-width="3.2"/><path d="M155.0 320.0L155.0 333.3" class="rl" stroke-width="2.4"/><path d="M263.4 319.5L263.0 322.5" class="rl" stroke-width="4.5"/><ellipse cx="263.6" cy="320.6" rx="2.9" ry="2.6" fill="#ff0000"/><path d="M262.3 323.0L262.0 333.0" class="rl" stroke-width="2.8"/><path d="M262.0 334.0L262.5 342.0" class="rl" stroke-width="5.5"/><path d="M259.8 340.0L266.0 338.8L279.0 339.0L281.0 341.2L296.0 341.4L297.0 342.6L320.0 342.9L320.0 345.5L300.0 345.6L280.0 345.7L262.0 346.1L259.8 345.0Z" fill="#ff0000" stroke="#ff0000" stroke-width="1" stroke-linejoin="round"/><path d="M325.5 344.4L357.0 344.4" class="rl" stroke-width="2.5"/><path d="M415.1 318.0L415.1 333.0" class="rl" stroke-width="2.2"/><path d="M415.6 333.5L420.7 335.0L421.0 339.0L440.0 340.5L470.0 341.5L474.0 342.0L474.0 345.5L440.0 345.6L420.0 345.8L415.6 345.0Z" fill="#ff0000" stroke="#ff0000" stroke-width="1" stroke-linejoin="round"/><path d="M474.0 343.8L477.5 343.8" class="rl" stroke-width="4.2"/><path d="M482.5 344.0L523.0 344.0" class="rl" stroke-width="4.2"/><path d="M95.1 462.6L95.1 467.0" class="rl" stroke-width="3.5"/><circle cx="108.4" cy="463.9" r="2" fill="#ff0000"/><path d="M116.0 462.0L120.0 465.0" class="rl" stroke-width="4"/><circle cx="127.5" cy="464.5" r="1.5" fill="#ff0000"/><path d="M134.5 464.5L139.6 464.5" class="rl" stroke-width="4"/><path d="M133.0 463.6L150.0 463.6L170.0 463.4L180.0 463.0" class="rl" stroke-width="2.8"/><path d="M191.1 439.5L189.2 454.4" class="rl" stroke-width="3"/><path d="M185.0 455.0L188.5 454.5L188.5 466.0L184.7 466.0Z" fill="#ff0000" stroke="#ff0000" stroke-width="1" stroke-linejoin="round"/><path d="M246.0 462.0L260.0 461.7L280.0 461.5L300.0 461.5L312.0 462.3L320.0 463.0L320.2 465.2L300.0 466.2L280.0 466.4L260.0 466.5L246.0 466.0Z" fill="#ff0000" stroke="#ff0000" stroke-width="1" stroke-linejoin="round"/><ellipse cx="307.5" cy="457.5" rx="3" ry="2.2" fill="#ff0000"/><path d="M313.8 439.8L313.8 444.2" class="rl" stroke-width="2.5"/><path d="M318.9 441.7L318.9 454.4" class="rl" stroke-width="2.5"/><path d="M336.0 457.5L339.0 460.0L345.0 462.5" class="rl" stroke-width="4"/><circle cx="356" cy="460.7" r="2" fill="#ff0000"/><path d="M416.8 454.0L416.8 461.0" class="rl" stroke-width="3.2"/><path d="M412.5 459.0L416.0 458.5L420.5 461.0L421.0 464.5L415.0 464.5L412.5 463.0Z" fill="#ff0000" stroke="#ff0000" stroke-width="1" stroke-linejoin="round"/><path d="M423.0 463.5L450.0 463.6L475.5 463.8" class="rl" stroke-width="2.8"/><path d="M489.1 439.7L489.1 444.8" class="rl" stroke-width="2.5"/><path d="M482.7 441.6L482.7 454.4" class="rl" stroke-width="2.6"/><path d="M491.0 458.5L491.5 465.0" class="rl" stroke-width="3.6"/><circle cx="498" cy="461.4" r="2" fill="#ff0000"/><circle cx="503.7" cy="460.7" r="2" fill="#ff0000"/></g>
<rect x="0.2" y="0.2" width="112.8" height="30.8" fill="#fff" stroke="#2e2e2e" stroke-width="1"/>
<path d="M19.6 5.2L23 8.6L19.6 12L16.2 8.6Z" fill="none" stroke="#0000ff" stroke-width="1.8" stroke-linejoin="round"/>
<circle cx="19.5" cy="22.7" r="1.5" fill="#ff0000"/>
<text x="37.60" y="12.50" font-size="12.38" font-weight="normal" text-anchor="start" textLength="28.33" lengthAdjust="spacingAndGlyphs" stroke="#1e1e1e" stroke-width="0.15">TGLF</text>
<text x="37.60" y="26.00" font-size="12.38" font-weight="normal" text-anchor="start" textLength="71.91" lengthAdjust="spacingAndGlyphs" stroke="#1e1e1e" stroke-width="0.15">fitting model</text>
</svg></body></html>
